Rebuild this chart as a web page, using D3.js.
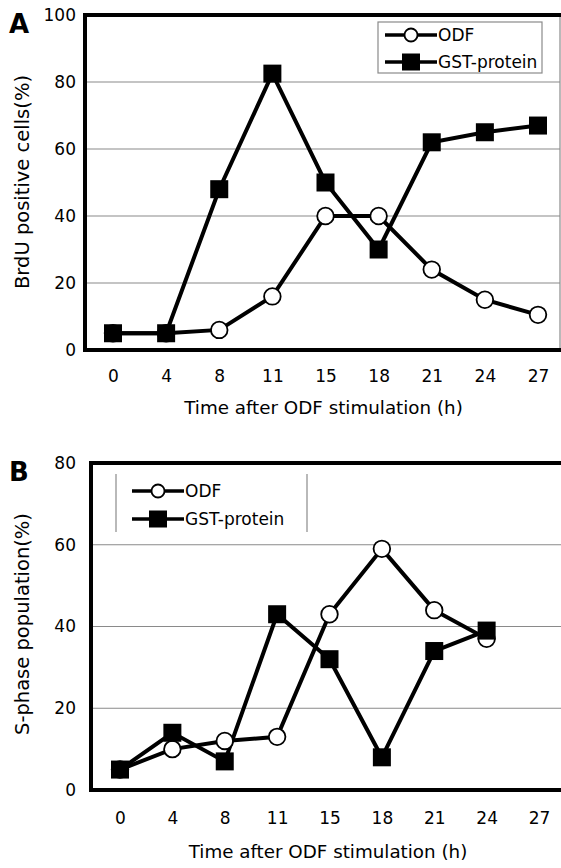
<!DOCTYPE html>
<html><head><meta charset="utf-8">
<script src="https://cdn.jsdelivr.net/npm/d3@7"></script>
<style>
html,body{margin:0;padding:0;background:#fff;}
svg{display:block;}
text{font-family:"DejaVu Sans",Verdana,sans-serif;fill:#000;}
</style></head>
<body>
<svg id="chart" width="561" height="868"></svg>
<script>
// ---- data ----
const timesA = ["0","4","8","11","15","18","21","24","27"];
const brduODF = [5, 5, 6, 16, 40, 40, 24, 15, 10.5];
const brduGST = [5, 5, 48, 82.5, 50, 30, 62, 65, 67];
const timesB = ["0","4","8","11","15","18","21","24","27"];
const sphaseODF = [5, 10, 12, 13, 43, 59, 44, 37];
const sphaseGST = [5, 14, 7, 43, 32, 8, 34, 39];
const yTicksA = [0, 20, 40, 60, 80, 100];
const yTicksB = [0, 20, 40, 60, 80];
const seriesNames = ["ODF", "GST-protein"];
const xTitle = "Time after ODF stimulation (h)";

const svg = d3.select("#chart");
const tickFont = "DejaVu Sans, Verdana, sans-serif";

function panel(o) {
  const g = svg.append("g");
  const x = d3.scalePoint().domain(o.times).range([o.x0, o.x1]);
  const y = d3.scaleLinear().domain([0, o.yMax]).range([o.bottom, o.top]);

  // gridlines
  g.append("g").selectAll("line").data(o.yTicks.filter(t => t > 0 && t < o.yMax))
    .join("line")
    .attr("x1", o.left).attr("x2", o.right)
    .attr("y1", d => y(d)).attr("y2", d => y(d))
    .attr("stroke", "#8a8a8a").attr("stroke-width", 1.2);

  // frame
  if (o.rightLine) {
    g.append("line").attr("x1", o.right).attr("x2", o.right)
      .attr("y1", o.top).attr("y2", o.bottom)
      .attr("stroke", "#8a8a8a").attr("stroke-width", 1.2);
  }
  g.append("path")
    .attr("d", `M${o.right + 2},${o.top}H${o.left}V${o.bottom}H${o.right + 2}`)
    .attr("fill", "none").attr("stroke", "#000").attr("stroke-width", 4);

  // axes
  const ya = d3.axisLeft(y).tickValues(o.yTicks).tickSize(0).tickPadding(0);
  g.append("g").attr("transform", `translate(${o.yLabelX},0)`).call(ya)
    .call(s => s.select(".domain").remove())
    .selectAll("text").attr("font-size", 17).attr("font-family", tickFont);
  const xa = d3.axisBottom(x).tickSize(0).tickPadding(0);
  g.append("g").attr("transform", `translate(0,${o.bottom + o.xLabelDy})`).call(xa)
    .call(s => s.select(".domain").remove())
    .selectAll("text").attr("font-size", 17).attr("font-family", tickFont);

  // titles
  g.append("text").attr("x", (o.left + o.right) / 2 + 1).attr("y", o.xTitleY)
    .attr("text-anchor", "middle").attr("font-size", 18.3).text(xTitle);
  g.append("text")
    .attr("transform", `translate(${o.yTitleX},${o.yTitleC}) rotate(-90)`)
    .attr("text-anchor", "middle").attr("font-size", 19.5).text(o.yTitle);
  g.append("text").attr("x", 9).attr("y", o.letterY)
    .attr("font-family", "Liberation Sans, Arial, sans-serif")
    .attr("font-size", 26).attr("font-weight", "bold").text(o.letter);

  // lines
  const line = d3.line().x((d, i) => x(o.times[i])).y(d => y(d));
  g.append("path").attr("d", line(o.odf)).attr("fill", "none")
    .attr("stroke", "#000").attr("stroke-width", 4).attr("stroke-linejoin", "miter");
  g.append("path").attr("d", line(o.gst)).attr("fill", "none")
    .attr("stroke", "#000").attr("stroke-width", 4).attr("stroke-linejoin", "miter");
  // markers
  g.append("g").selectAll("circle").data(o.odf).join("circle")
    .attr("cx", (d, i) => x(o.times[i])).attr("cy", d => y(d)).attr("r", 8.3)
    .attr("fill", "#fff").attr("stroke", "#000").attr("stroke-width", 1.8);
  const sq = 18;
  g.append("g").selectAll("rect").data(o.gst).join("rect")
    .attr("x", (d, i) => x(o.times[i]) - sq / 2).attr("y", d => y(d) - sq / 2)
    .attr("width", sq).attr("height", sq).attr("fill", "#000");

  // legend
  const L = o.legend;
  if (L.full) {
    g.append("rect").attr("x", L.x0).attr("y", L.y0).attr("width", L.x1 - L.x0).attr("height", L.y1 - L.y0)
      .attr("fill", "#fff").attr("stroke", "#8a8a8a").attr("stroke-width", 1.2);
  } else {
    [L.x0, L.x1].forEach(xx => g.append("line").attr("x1", xx).attr("x2", xx)
      .attr("y1", L.y0).attr("y2", L.y1).attr("stroke", "#8a8a8a").attr("stroke-width", 1.2));
  }
  seriesNames.forEach((name, i) => {
    const ry = L.rows[i];
    g.append("line").attr("x1", L.lx0).attr("x2", L.lx1).attr("y1", ry).attr("y2", ry)
      .attr("stroke", "#000").attr("stroke-width", 3.5);
    const mx = (L.lx0 + L.lx1) / 2;
    if (i === 0) {
      g.append("circle").attr("cx", mx).attr("cy", ry).attr("r", 6.5)
        .attr("fill", "#fff").attr("stroke", "#000").attr("stroke-width", 1.8);
    } else {
      g.append("rect").attr("x", mx - 9).attr("y", ry - 8.5).attr("width", 18).attr("height", 17).attr("fill", "#000");
    }
    g.append("text").attr("x", L.lx1 + 1).attr("y", ry).attr("dy", "0.36em")
      .attr("font-family", "Liberation Sans, Arial, sans-serif")
      .attr("font-size", 17).text(name);
  });
}

panel({
  times: timesA, odf: brduODF, gst: brduGST, yMax: 100, yTicks: yTicksA,
  left: 85, right: 560, top: 15, bottom: 350, x0: 113, x1: 538,
  yLabelX: 76, xLabelDy: 20, xTitleY: 414, yTitleX: 29, yTitleC: 182,
  yTitle: "BrdU positive cells(%)", letter: "A", letterY: 33, rightLine: true,
  legend: {full: true, x0: 378, x1: 542, y0: 22, y1: 73, rows: [35, 62], lx0: 385, lx1: 437}
});

panel({
  times: timesB, odf: sphaseODF, gst: sphaseGST, yMax: 80, yTicks: yTicksB,
  left: 91, right: 563, top: 463, bottom: 790, x0: 120, x1: 539,
  yLabelX: 76, xLabelDy: 22, xTitleY: 858, yTitleX: 29, yTitleC: 624,
  yTitle: "S-phase population(%)", letter: "B", letterY: 481, rightLine: false,
  legend: {full: false, x0: 116, x1: 307, y0: 474, y1: 532, rows: [491, 519], lx0: 132, lx1: 184}
});
</script>
</body></html>
